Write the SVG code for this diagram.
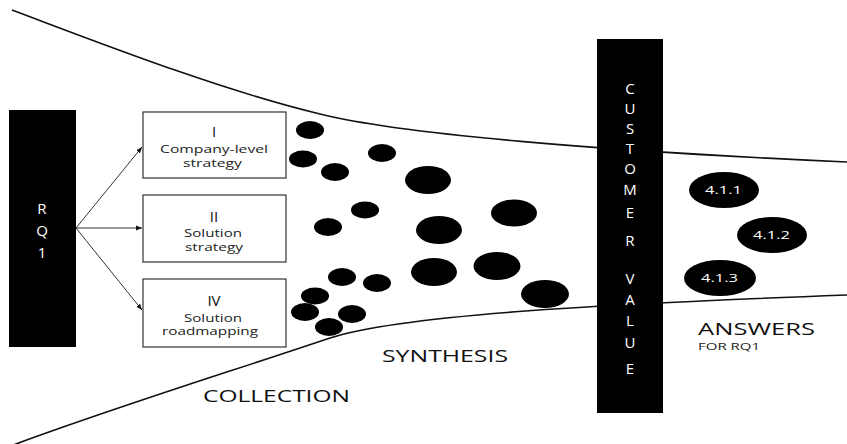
<svg xmlns="http://www.w3.org/2000/svg" width="847" height="444" viewBox="0 0 847 444">
  <style>
    .funnel { fill: none; stroke: #111; stroke-width: 1.6; }
    .bar { fill: #000; }
    .barText { fill: #fff; font-family: "Open Sans", "Liberation Sans", sans-serif; font-size: 15px; text-anchor: middle; }
    .box { fill: #fff; stroke: #333; stroke-width: 1.2; }
    .roman { fill: #111; font-family: "Open Sans", "Liberation Sans", sans-serif; font-size: 15px; text-anchor: middle; }
    .small { fill: #222; font-family: "Open Sans", "Liberation Sans", sans-serif; font-size: 10.5px; }
    .dot { fill: #000; }
    .ansText { fill: #fff; font-family: "Open Sans", "Liberation Sans", sans-serif; font-size: 10.5px; }
    .label { fill: #111; font-family: "Open Sans", "Liberation Sans", sans-serif; font-size: 15.5px; }
    .conn { stroke: #333; stroke-width: 1; fill: none; marker-end: url(#arrow); }
  </style>
  <defs>
    <marker id="arrow" viewBox="0 0 10 10" refX="10" refY="5" markerWidth="6" markerHeight="6" orient="auto" markerUnits="userSpaceOnUse">
      <path d="M0,1 L10,5 L0,9 z" fill="#111"/>
    </marker>
  </defs>

  <!-- funnel outline -->
  <g id="funnel">
    <path class="funnel" d="M12,10 C100,43 220,90 320,114 C400,134 600,151 847,162"/>
    <path class="funnel" d="M0,450 C100,412 220,375 330,338 C400,315 600,304 847,295"/>
  </g>

  <!-- research question bar -->
  <g id="rq1">
    <rect class="bar" x="9" y="110" width="67" height="237"/>
    <text class="barText" x="42" y="214">R</text>
    <text class="barText" x="42" y="236">Q</text>
    <text class="barText" x="42" y="258">1</text>
  </g>

  <!-- connectors -->
  <g id="connectors">
    <path class="conn" d="M76,228 L142,147"/>
    <path class="conn" d="M76,228 L142,228"/>
    <path class="conn" d="M76,228 L142,310"/>
  </g>

  <g id="box-i">
    <rect class="box" x="143" y="112" width="143" height="66"/>
    <text class="roman" x="214" y="137">I</text>
    <text class="small" x="160" y="153" textLength="108" lengthAdjust="spacingAndGlyphs">Company-level</text>
    <text class="small" x="183" y="167" textLength="59" lengthAdjust="spacingAndGlyphs">strategy</text>
  </g>
  <g id="box-ii">
    <rect class="box" x="143" y="195" width="143" height="67"/>
    <text class="roman" x="214" y="222">II</text>
    <text class="small" x="184" y="237" textLength="58" lengthAdjust="spacingAndGlyphs">Solution</text>
    <text class="small" x="185" y="251" textLength="58" lengthAdjust="spacingAndGlyphs">strategy</text>
  </g>
  <g id="box-iv">
    <rect class="box" x="143" y="279" width="143" height="68"/>
    <text class="roman" x="214" y="306">IV</text>
    <text class="small" x="184" y="322" textLength="58" lengthAdjust="spacingAndGlyphs">Solution</text>
    <text class="small" x="162" y="335" textLength="96" lengthAdjust="spacingAndGlyphs">roadmapping</text>
  </g>

  <!-- collected and synthesised items -->
  <g id="items">
    <ellipse class="dot" cx="310" cy="130" rx="14" ry="9"/>
    <ellipse class="dot" cx="303" cy="159" rx="14" ry="8.5"/>
    <ellipse class="dot" cx="335" cy="172" rx="14" ry="9"/>
    <ellipse class="dot" cx="382" cy="153" rx="14" ry="9"/>
    <ellipse class="dot" cx="428" cy="180" rx="23" ry="14"/>
    <ellipse class="dot" cx="365" cy="210" rx="14" ry="8.5"/>
    <ellipse class="dot" cx="328" cy="227" rx="14" ry="9"/>
    <ellipse class="dot" cx="439" cy="230" rx="23" ry="14"/>
    <ellipse class="dot" cx="514" cy="213" rx="23" ry="13.5"/>
    <ellipse class="dot" cx="342" cy="277" rx="14" ry="9"/>
    <ellipse class="dot" cx="377" cy="283" rx="14" ry="9"/>
    <ellipse class="dot" cx="434" cy="272" rx="23" ry="14"/>
    <ellipse class="dot" cx="497" cy="266" rx="23.5" ry="14"/>
    <ellipse class="dot" cx="545" cy="294" rx="24" ry="14"/>
    <ellipse class="dot" cx="315" cy="296" rx="14" ry="8.5"/>
    <ellipse class="dot" cx="305" cy="312" rx="14" ry="9"/>
    <ellipse class="dot" cx="352" cy="314" rx="14" ry="9"/>
    <ellipse class="dot" cx="329" cy="327" rx="14" ry="9"/>
  </g>

  <!-- customer value bar -->
  <g id="customer-value">
    <rect class="bar" x="597" y="39" width="66" height="374"/>
    <text class="barText" x="630" y="94">C</text>
    <text class="barText" x="630" y="114">U</text>
    <text class="barText" x="630" y="134">S</text>
    <text class="barText" x="630" y="154">T</text>
    <text class="barText" x="630" y="174">O</text>
    <text class="barText" x="630" y="195">M</text>
    <text class="barText" x="630" y="218">E</text>
    <text class="barText" x="630" y="246">R</text>
    <text class="barText" x="630" y="284">V</text>
    <text class="barText" x="630" y="305">A</text>
    <text class="barText" x="630" y="326">L</text>
    <text class="barText" x="630" y="348">U</text>
    <text class="barText" x="630" y="374">E</text>
  </g>

  <!-- answers -->
  <g id="answer-411">
    <ellipse class="dot" cx="724" cy="190" rx="35" ry="18"/>
    <text class="ansText" x="705" y="194" textLength="37" lengthAdjust="spacingAndGlyphs">4.1.1</text>
  </g>
  <g id="answer-412">
    <ellipse class="dot" cx="772" cy="235" rx="35" ry="18"/>
    <text class="ansText" x="753" y="239" textLength="37" lengthAdjust="spacingAndGlyphs">4.1.2</text>
  </g>
  <g id="answer-413">
    <ellipse class="dot" cx="720" cy="278" rx="36" ry="18"/>
    <text class="ansText" x="701" y="282" textLength="37" lengthAdjust="spacingAndGlyphs">4.1.3</text>
  </g>

  <!-- stage labels -->
  <g id="labels">
    <text class="label" x="698" y="335" textLength="117" lengthAdjust="spacingAndGlyphs">ANSWERS</text>
    <text x="698" y="350" textLength="62" lengthAdjust="spacingAndGlyphs" style="fill:#222;font-family:'Open Sans','Liberation Sans',sans-serif;font-size:9.5px">FOR RQ1</text>
    <text class="label" x="382" y="362" textLength="126" lengthAdjust="spacingAndGlyphs">SYNTHESIS</text>
    <text class="label" x="203" y="402" textLength="147" lengthAdjust="spacingAndGlyphs">COLLECTION</text>
  </g>
</svg>
